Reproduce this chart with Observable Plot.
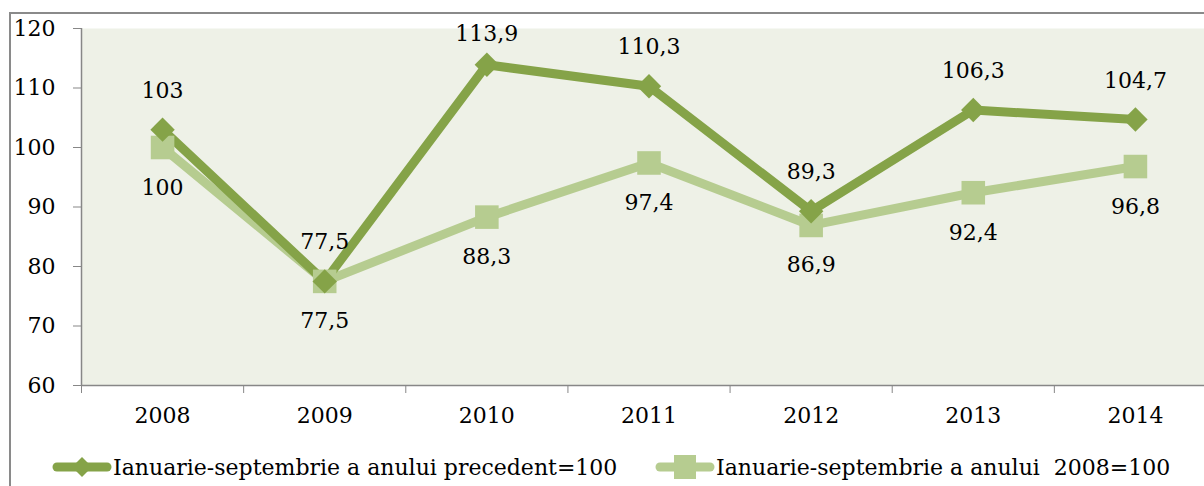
<!DOCTYPE html>
<html>
<head>
<meta charset="utf-8">
<script src="https://cdn.jsdelivr.net/npm/d3@7"></script>
<script src="https://cdn.jsdelivr.net/npm/@observablehq/plot@0.6"></script>
<style>
  html, body { margin: 0; padding: 0; background: #fff; }
  body { width: 1204px; height: 486px; overflow: hidden; position: relative; font-family: "DejaVu Serif", serif; }
  #frame { position: absolute; left: 9px; top: 12px; width: 1300px; height: 600px; border: 2px solid #8a8a8a; box-sizing: border-box; }
  #chart { position: absolute; left: 0; top: 0; }
  #legend { position: absolute; left: 0; top: 452px; height: 30px; width: 1300px; }
  .item { position: absolute; top: 0; display: flex; align-items: center; height: 30px; font-size: 22px; color: #000; white-space: pre; }
  .item svg { display: block; }
</style>
</head>
<body>
<div id="frame"></div>
<div id="chart"></div>
<div id="legend"></div>
<script>
const years = [2008, 2009, 2010, 2011, 2012, 2013, 2014];
const prevYear = [103, 77.5, 113.9, 110.3, 89.3, 106.3, 104.7];
const base2008 = [100, 77.5, 88.3, 97.4, 86.9, 92.4, 96.8];
const yTicks = [60, 70, 80, 90, 100, 110, 120];
const seriesNames = ["Ianuarie-septembrie a anului precedent=100", "Ianuarie-septembrie a anului  2008=100"];
const colors = ["#85a348", "#b6cc90"];

const dark = years.map((year, i) => ({year, v: prevYear[i]}));
const light = years.map((year, i) => ({year, v: base2008[i]}));
const bounds = years.map(y => y - 0.5).concat([years[years.length - 1] + 0.5]);
const fmt = v => String(v).replace(".", ",");
const font = "DejaVu Serif, serif";

const chart = Plot.plot({
  width: 1230,
  height: 445,
  marginLeft: 81,
  marginRight: 14,
  marginTop: 28,
  marginBottom: 60,
  style: {fontFamily: font, fontSize: "22px", color: "#000", background: "transparent", maxWidth: "none"},
  x: {type: "linear", domain: [bounds[0], bounds[bounds.length - 1]], label: null},
  y: {domain: [yTicks[0], yTicks[yTicks.length - 1]], label: null},
  marks: [
    Plot.frame({fill: "#eef1e7", stroke: null}),
    Plot.axisY({ticks: yTicks, tickSize: 8, tickPadding: 18, stroke: "#878787", fill: "#000", label: null, tickFormat: d => String(d)}),
    Plot.axisX({ticks: bounds, tickSize: 8, tickFormat: () => "", label: null, stroke: "#878787"}),
    Plot.axisX({ticks: years, tickSize: 0, tickPadding: 22, fill: "#000", label: null, tickFormat: d => String(d)}),
    Plot.ruleX([bounds[0]], {stroke: "#878787", strokeWidth: 1.5}),
    Plot.ruleY([yTicks[0]], {stroke: "#878787", strokeWidth: 1.5}),
    Plot.line(light, {x: "year", y: "v", stroke: colors[1], strokeWidth: 9, strokeLinejoin: "round"}),
    Plot.line(dark, {x: "year", y: "v", stroke: colors[0], strokeWidth: 9, strokeLinejoin: "round"}),
    Plot.dot(light, {x: "year", y: "v", symbol: "square", r: 13.3, fill: colors[1], stroke: null}),
    Plot.dot(dark, {x: "year", y: "v", symbol: "diamond2", r: 11, fill: colors[0], stroke: null}),
    Plot.text(dark, {x: "year", y: d => Math.min(d.v, 112.6), text: d => fmt(d.v), dy: -39, fill: "#000", fontSize: 22}),
    Plot.text(light, {x: "year", y: "v", text: d => fmt(d.v), dy: 40, fill: "#000", fontSize: 22})
  ]
});
document.getElementById("chart").appendChild(chart);

// legend
const legend = document.getElementById("legend");
const lefts = [52, 655];
const symbols = ["diamond", "square"];
seriesNames.forEach((name, i) => {
  const item = document.createElement("div");
  item.className = "item";
  item.style.left = lefts[i] + "px";
  const ns = "http://www.w3.org/2000/svg";
  const svg = document.createElementNS(ns, "svg");
  svg.setAttribute("width", 60);
  svg.setAttribute("height", 30);
  const line = document.createElementNS(ns, "line");
  line.setAttribute("x1", 5); line.setAttribute("x2", 55);
  line.setAttribute("y1", 15); line.setAttribute("y2", 15);
  line.setAttribute("stroke", colors[i]);
  line.setAttribute("stroke-width", 9);
  line.setAttribute("stroke-linecap", "round");
  svg.appendChild(line);
  const m = document.createElementNS(ns, "path");
  if (symbols[i] === "diamond") m.setAttribute("d", "M30,5 L40,15 L30,25 L20,15 Z");
  else m.setAttribute("d", "M19,3 H41 V27 H19 Z");
  m.setAttribute("fill", colors[i]);
  svg.appendChild(m);
  item.appendChild(svg);
  const span = document.createElement("span");
  span.textContent = name;
  span.style.marginLeft = "1px";
  item.appendChild(span);
  legend.appendChild(item);
});
</script>
</body>
</html>
